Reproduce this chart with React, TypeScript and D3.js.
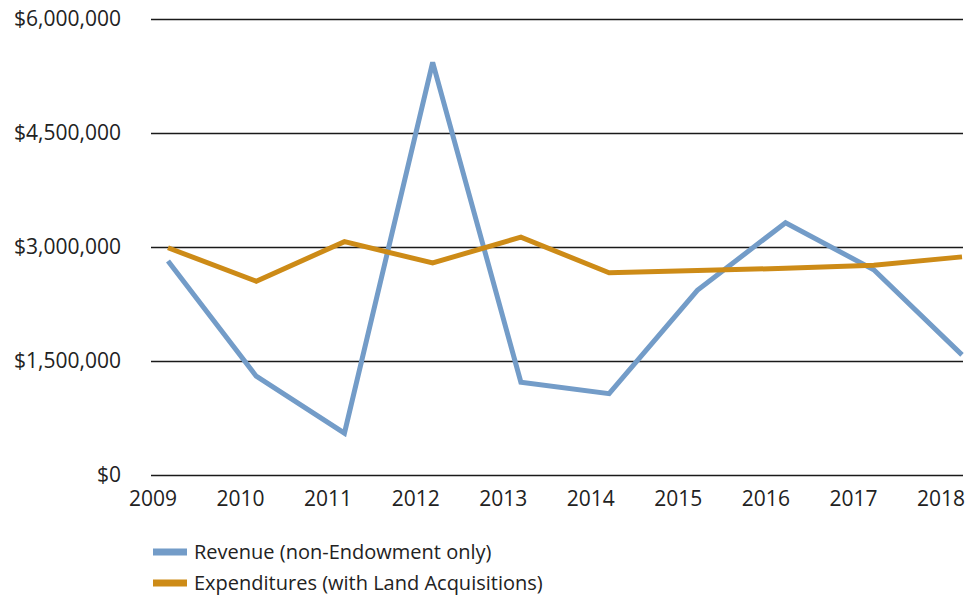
import { useEffect, useRef } from "react";
import * as d3 from "d3";

// years on the category axis
const years = ["2009", "2010", "2011", "2012", "2013", "2014", "2015", "2016", "2017", "2018"];

// revenue (non-endowment only), dollars
const revenue = [2816000, 1300000, 550000, 5430000, 1220000, 1070000, 2430000, 3320000, 2700000, 1580000];

// expenditures (with land acquisitions), dollars
const expenditures = [2990000, 2550000, 3070000, 2790000, 3130000, 2660000, 2690000, 2720000, 2760000, 2870000];

// y axis ticks
const yTicks = [0, 1500000, 3000000, 4500000, 6000000];

const seriesNames = ["Revenue (non-Endowment only)", "Expenditures (with Land Acquisitions)"];
const seriesColors = ["#739cc8", "#cd8b17"];

function Chart() {
  // reference to the svg element
  const svgRef = useRef<SVGSVGElement>(null);

  useEffect(() => {
    const svg = d3.select(svgRef.current);
    svg.selectAll("*").remove();

    const font = "'Open Sans', sans-serif";

    // scales (page coordinates, svg sits at the top-left corner)
    const y = d3.scaleLinear().domain([0, 6000000]).range([475, 19]);
    const x = d3.scalePoint().domain(years).range([168, 962]);
    const xLabel = d3.scalePoint().domain(years).range([153, 941]);
    const gridLeft = 151;
    const gridRight = 963;

    // horizontal gridlines
    svg
      .append("g")
      .selectAll("line")
      .data(yTicks)
      .join("line")
      .attr("x1", gridLeft)
      .attr("x2", gridRight)
      .attr("y1", (d) => Math.round(y(d)) + 0.5)
      .attr("y2", (d) => Math.round(y(d)) + 0.5)
      .attr("stroke", "#1a1a1a")
      .attr("stroke-width", 1.4);

    // y tick labels
    svg
      .append("g")
      .selectAll("text")
      .data(yTicks)
      .join("text")
      .attr("x", 121)
      .attr("y", (d) => y(d))
      .attr("dy", "0.35em")
      .attr("text-anchor", "end")
      .attr("font-family", font)
      .attr("font-size", 21)
      .attr("fill", "#222")
      .text((d) => d3.format("$,")(d));

    // x tick labels
    svg
      .append("g")
      .selectAll("text")
      .data(years)
      .join("text")
      .attr("x", (d) => xLabel(d)!)
      .attr("y", 506)
      .attr("text-anchor", "middle")
      .attr("font-family", font)
      .attr("font-size", 21)
      .attr("fill", "#222")
      .text((d) => d);

    // the two series lines
    const line = d3
      .line<number>()
      .x((_, i) => x(years[i])!)
      .y((d) => y(d));

    [revenue, expenditures].forEach((values, i) => {
      svg
        .append("path")
        .datum(values)
        .attr("d", line)
        .attr("fill", "none")
        .attr("stroke", seriesColors[i])
        .attr("stroke-width", 5)
        .attr("stroke-linejoin", "miter");
    });

    // legend
    const legend = svg
      .append("g")
      .selectAll("g")
      .data(seriesNames)
      .join("g")
      .attr("transform", (_, i) => `translate(153, ${552 + i * 31})`);

    legend
      .append("line")
      .attr("x1", 0)
      .attr("x2", 34)
      .attr("stroke", (_, i) => seriesColors[i])
      .attr("stroke-width", 7);

    legend
      .append("text")
      .attr("x", 41)
      .attr("dy", "0.35em")
      .attr("font-family", font)
      .attr("font-size", 20)
      .attr("fill", "#222")
      .text((d) => d);
  }, []);

  return (
    <svg
      ref={svgRef}
      width={975}
      height={599}
      style={{ position: "absolute", left: 0, top: 0, display: "block" }}
    />
  );
}

export default function App() {
  return <Chart />;
}
